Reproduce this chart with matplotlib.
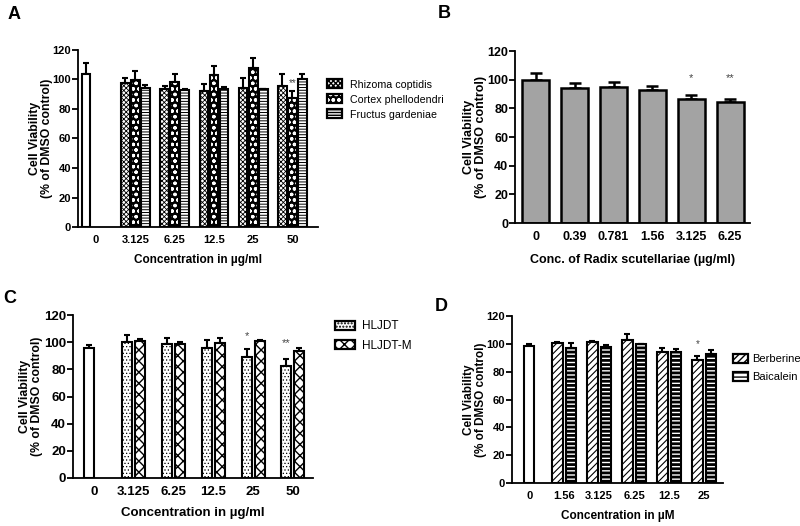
import numpy as np
import matplotlib as mpl
mpl.use('Agg')
import matplotlib.pyplot as plt
from matplotlib.patches import Patch
from matplotlib.legend_handler import HandlerTuple

mpl.rcParams['font.family'] = ['Liberation Sans Narrow', 'Liberation Sans', 'DejaVu Sans']
mpl.rcParams['hatch.color'] = 'black'

# ---- data ----
a_ticks = ['0', '3.125', '6.25', '12.5', '25', '50']
a_control = [103.5]
a_control_err = [8.0]
a_rhizoma = [97.8, 93.3, 92.4, 94.0, 95.8]
a_rhizoma_err = [3.0, 2.5, 4.5, 6.7, 7.7]
a_cortex = [99.6, 98.5, 103.0, 107.5, 87.2]
a_cortex_err = [6.0, 5.5, 6.3, 6.8, 5.2]
a_fructus = [94.2, 92.9, 93.3, 93.3, 100.3]
a_fructus_err = [2.0, 0.6, 1.3, 0.4, 3.4]

b_ticks = ['0', '0.39', '0.781', '1.56', '3.125', '6.25']
b_vals = [99.8, 94.5, 94.9, 92.8, 86.6, 84.3]
b_err = [5.0, 3.0, 3.8, 2.8, 2.8, 2.1]
b_stars = ['', '', '', '', '*', '**']

c_ticks = ['0', '3.125', '6.25', '12.5', '25', '50']
c_control = [95.9]
c_control_err = [2.0]
c_hljdt = [100.3, 98.4, 95.9, 89.0, 82.4]
c_hljdt_err = [4.7, 5.0, 5.6, 5.7, 4.9]
c_hljdtm = [100.8, 98.8, 99.6, 100.8, 93.5]
c_hljdtm_err = [1.5, 1.2, 3.4, 0.5, 2.4]

d_ticks = ['0', '1.56', '3.125', '6.25', '12.5', '25']
d_control = [98.8]
d_control_err = [1.5]
d_berberine = [100.8, 101.5, 102.5, 94.3, 88.8]
d_berberine_err = [0.5, 0.8, 4.3, 2.9, 2.4]
d_baicalein = [97.2, 97.9, 99.6, 94.0, 92.9]
d_baicalein_err = [3.6, 1.5, 0.3, 2.4, 2.6]

ylab = 'Cell Viability\n(% of DMSO control)'

fig = plt.figure(figsize=(8, 5.26), dpi=100)


def style_axes(ax, ticks, xlim, xlabel, fs=8, xfs=8.5, yfs=8.8, ylx=-0.11, xpad=6):
    ax.set_ylim(0, 120)
    ax.set_xlim(*xlim)
    ax.set_yticks(np.arange(0, 121, 20))
    ax.set_xticks(np.arange(len(ticks)))
    ax.set_xticklabels(ticks)
    for s in ['top', 'right']:
        ax.spines[s].set_visible(False)
    for s in ['left', 'bottom']:
        ax.spines[s].set_linewidth(1.3)
    ax.tick_params(axis='y', length=4, width=1.3, labelsize=fs, pad=1)
    ax.tick_params(axis='x', length=0, labelsize=fs, pad=6)
    for lab in ax.get_xticklabels() + ax.get_yticklabels():
        lab.set_fontweight('bold')
    ax.set_xlabel(xlabel, fontsize=xfs, fontweight='bold', labelpad=xpad)
    ax.set_ylabel(ylab, fontsize=yfs, fontweight='bold', linespacing=1.0,
                  family=['Liberation Sans', 'DejaVu Sans'])
    ax.yaxis.set_label_coords(ylx, 0.5)


def bars(ax, x, vals, errs, width, hatch='', face='white', hatch_lw=1.0,
         hatch_col='black', lw=1.5, capsize=2.2):
    with mpl.rc_context({'hatch.linewidth': hatch_lw, 'hatch.color': hatch_col}):
        ax.bar(x, vals, width, color=face, edgecolor=hatch_col, hatch=hatch,
               linewidth=0, zorder=2)
    ax.bar(x, vals, width, fill=False, edgecolor='black', linewidth=lw, zorder=3)
    ax.errorbar(x, vals, yerr=[np.zeros(len(vals)), errs], fmt='none',
                ecolor='black', elinewidth=lw, capsize=capsize, capthick=lw,
                zorder=1)


def legend_handle(hatch, face='white', hatch_lw=1.0, hatch_col='black'):
    with mpl.rc_context({'hatch.linewidth': hatch_lw, 'hatch.color': hatch_col}):
        h = Patch(facecolor=face, edgecolor=hatch_col, hatch=hatch, linewidth=0)
    outline = Patch(facecolor='none', edgecolor='black', linewidth=1.6)
    return (h, outline)


leg_kw = dict(handler_map={tuple: HandlerTuple(ndivide=1, pad=0)},
              loc='upper left', frameon=False, borderaxespad=0)

# ---- Panel A ----
axA = fig.add_axes([0.0975, 0.5684, 0.30, 0.3366])
xg = np.arange(1, 6)
w = 0.22
off = 0.255
bars(axA, [0 - off], a_control, a_control_err, w)
bars(axA, xg - off, a_rhizoma, a_rhizoma_err, w, hatch='xxxxxxx', hatch_lw=0.6)
bars(axA, xg, a_cortex, a_cortex_err, w, hatch='ooo', face='black',
     hatch_lw=0.9, hatch_col='white')
bars(axA, xg + off, a_fructus, a_fructus_err, w, hatch='------', hatch_lw=0.7)
axA.text(5, 94, '**', ha='center', va='bottom', fontsize=7, color='#444444')
style_axes(axA, a_ticks, (-0.46, 5.65), 'Concentration in µg/ml', fs=8,
           ylx=-0.104)
hA = [legend_handle('xxxxxxx', hatch_lw=0.6),
      legend_handle('ooo', face='black', hatch_lw=0.9, hatch_col='white'),
      legend_handle('------', hatch_lw=0.7)]
fig.legend(hA, ['Rhizoma coptidis', 'Cortex phellodendri', 'Fructus gardeniae'],
           bbox_to_anchor=(0.404, 0.857), fontsize=7.7, handlelength=1.4,
           handleheight=0.9, labelspacing=0.45, handletextpad=0.7, **leg_kw)
fig.text(0.01, 0.988, 'A', fontsize=13, fontweight='bold', va='top',
         family='Liberation Sans')

# ---- Panel B ----
axB = fig.add_axes([0.644, 0.576, 0.2935, 0.327])
xb = np.arange(len(b_vals))
bars(axB, xb, b_vals, b_err, 0.69, face='#a3a3a3', lw=1.8, capsize=4.5)
for i, s in enumerate(b_stars):
    if s:
        axB.text(i, 97.5, s, ha='center', va='bottom', fontsize=8, color='#444444')
style_axes(axB, b_ticks, (-0.53, 5.51), 'Conc. of Radix scutellariae (µg/ml)',
           fs=9, xfs=9, yfs=9, ylx=-0.119, xpad=8)
fig.text(0.547, 0.99, 'B', fontsize=13, fontweight='bold', va='top',
         family='Liberation Sans')

# ---- Panel C ----
axC = fig.add_axes([0.091, 0.0913, 0.30, 0.3097])
w2 = 0.25
off2 = 0.165
bars(axC, [0 - off2 + 0.04], c_control, c_control_err, w2, capsize=2.5)
bars(axC, xg - off2, c_hljdt, c_hljdt_err, w2, hatch='.....', hatch_lw=0.5,
     capsize=2.5)
bars(axC, xg + off2, c_hljdtm, c_hljdtm_err, w2, hatch='xxx', hatch_lw=1.0,
     capsize=2.5)
axC.text(4 - off2, 101, '*', ha='center', va='bottom', fontsize=8, color='#444444')
axC.text(5 - off2, 95.5, '**', ha='center', va='bottom', fontsize=8, color='#444444')
style_axes(axC, c_ticks, (-0.53, 5.5), 'Concentration in µg/ml', fs=9.5,
           xfs=9.5, ylx=-0.125)
hC = [legend_handle('.....', hatch_lw=0.5), legend_handle('xxx', hatch_lw=1.0)]
fig.legend(hC, ['HLJDT', 'HLJDT-M'], bbox_to_anchor=(0.413, 0.4),
           fontsize=8.5, handlelength=1.7, handleheight=0.8, labelspacing=0.65,
           handletextpad=0.6, **leg_kw)
fig.text(0.004, 0.449, 'C', fontsize=13, fontweight='bold', va='top',
         family='Liberation Sans')

# ---- Panel D ----
axD = fig.add_axes([0.64, 0.0817, 0.2638, 0.3173])
w3 = 0.3
off3 = 0.19
bars(axD, [0], d_control, d_control_err, w3, capsize=2.5)
bars(axD, xg - off3, d_berberine, d_berberine_err, w3, hatch='/////',
     hatch_lw=0.8, capsize=2.5)
bars(axD, xg + off3, d_baicalein, d_baicalein_err, w3, hatch='----',
     hatch_lw=2.0, capsize=2.5)
axD.text(5 - off3, 96.5, '*', ha='center', va='bottom', fontsize=7, color='#444444')
style_axes(axD, d_ticks, (-0.49, 5.54), 'Concentration in µM', fs=8, xfs=8.5,
           yfs=8.5, ylx=-0.118)
hD = [legend_handle('/////', hatch_lw=0.8), legend_handle('----', hatch_lw=2.0)]
fig.legend(hD, ['Berberine', 'Baicalein'], bbox_to_anchor=(0.911, 0.335),
           fontsize=8, handlelength=1.3, handleheight=0.8, labelspacing=0.7,
           handletextpad=0.4, **leg_kw)
fig.text(0.543, 0.4335, 'D', fontsize=13, fontweight='bold', va='top',
         family='Liberation Sans')

plt.savefig('out.png', dpi=100)
